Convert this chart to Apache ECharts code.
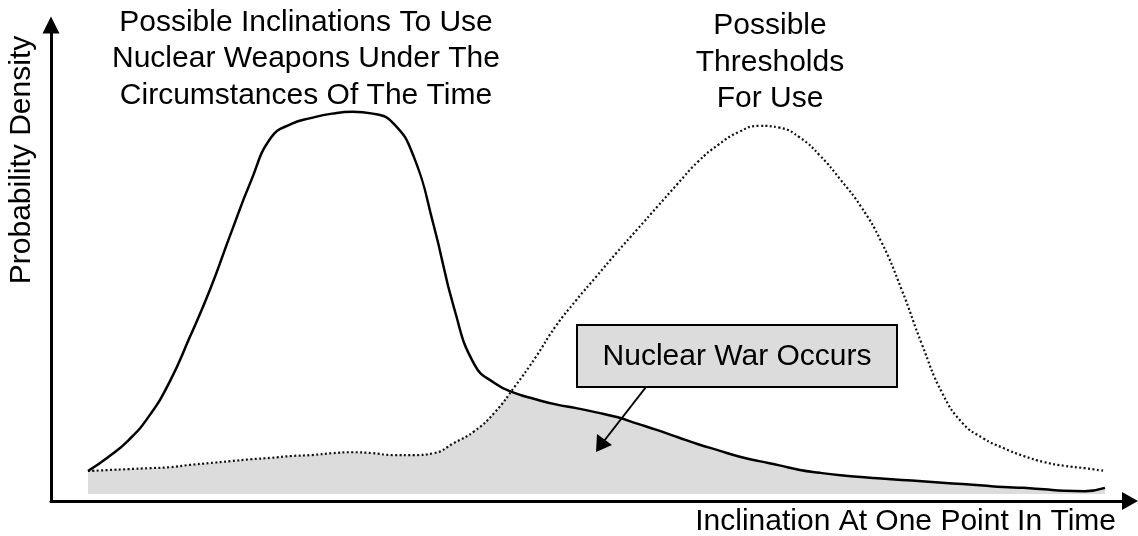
<!DOCTYPE html>
<html>
<head>
<meta charset="utf-8">
<script src="https://cdn.jsdelivr.net/npm/echarts@6/dist/echarts.min.js"></script>
<style>
  html, body { margin: 0; padding: 0; background: #fff; }
  #main { width: 1138px; height: 536px; }
</style>
</head>
<body>
<div id="main"></div>
<script>
// inclination (arbitrary units along the horizontal axis)
const xs = [0, 2, 4, 6, 8, 10, 12, 14, 16, 18, 20, 22, 24, 26, 28, 30, 32, 34, 36, 38,
  40, 42, 44, 46, 48, 50, 52, 54, 56, 58, 60, 62, 64, 66, 68, 70, 72, 74, 76, 78,
  80, 82, 84, 86, 88, 90, 92, 94, 96, 98, 100]

// possible inclinations to use nuclear weapons (solid curve)
const inclination = [4.9, 7.9, 11.5, 16.6, 23.8, 33.4, 43.6, 55.3, 66.6, 76.0,
  78.9, 80.2, 81.1, 81.5, 81.1, 79.1, 72.1, 57.2, 39.6, 27.6,
  23.6, 21.5, 20.2, 19.1, 18.3, 17.4, 16.4, 15.0, 13.6, 12.1,
  10.6, 9.3, 8.0, 7.0, 6.1, 5.1, 4.5, 4.0, 3.6, 3.3,
  3.0, 2.7, 2.4, 2.1, 1.8, 1.5, 1.3, 1.0, 0.7, 0.6, 1.3]

// possible thresholds for use (dotted curve)
const threshold = [4.9, 5.1, 5.3, 5.5, 5.7, 6.2, 6.6, 7.0, 7.4, 7.7,
  8.1, 8.3, 8.7, 8.9, 8.7, 8.3, 8.3, 8.7, 10.9, 13.4,
  17.4, 23.0, 29.1, 35.8, 41.3, 46.4, 51.5, 56.4, 61.3, 66.2,
  70.9, 74.5, 77.2, 78.5, 78.1, 76.0, 72.1, 67.0, 61.3, 53.8,
  43.6, 31.9, 21.5, 15.1, 11.9, 9.8, 8.1, 6.8, 6.0, 5.5, 4.9]

const fontFamily = '"Liberation Sans", Arial, sans-serif'
const font = '30px ' + fontFamily

const pairs = arr => xs.map((x, i) => [x, arr[i]])
// overlap region: below both curves
const overlap = xs.map((x, i) => [x, Math.min(inclination[i], threshold[i])])

function label (text, x, y, align, rotation) {
  return {
    type: 'text',
    x: x,
    y: y,
    rotation: rotation || 0,
    style: {
      text: text,
      font: font,
      fill: '#000',
      textAlign: align || 'center',
      textVerticalAlign: 'middle'
    },
    z: 11
  }
}

const chart = echarts.init(document.getElementById('main'), null, { renderer: 'canvas' })

const option = {
  animation: false,
  backgroundColor: '#fff',
  grid: {
    left: 51,
    right: 8,
    top: 25,
    bottom: 35
  },
  xAxis: {
    type: 'value',
    min: -3.64,
    max: 102.46,
    axisLine: {
      show: true,
      onZero: false,
      symbol: ['none', 'triangle'],
      symbolSize: [18, 16],
      lineStyle: { color: '#000', width: 3 }
    },
    axisTick: { show: false },
    axisLabel: { show: false },
    splitLine: { show: false }
  },
  yAxis: {
    type: 'value',
    min: -1.5,
    max: 100,
    axisLine: {
      show: true,
      onZero: false,
      symbol: ['none', 'triangle'],
      symbolSize: [17, 17],
      lineStyle: { color: '#000', width: 3 }
    },
    axisTick: { show: false },
    axisLabel: { show: false },
    splitLine: { show: false }
  },
  series: [
    {
      name: 'Nuclear War Occurs',
      type: 'line',
      data: overlap,
      smooth: 0.5,
      symbol: 'none',
      lineStyle: { width: 0 },
      areaStyle: { color: '#dcdcdc', opacity: 1, origin: 'auto' },
      z: 1
    },
    {
      name: 'Possible Thresholds For Use',
      type: 'line',
      data: pairs(threshold),
      smooth: 0.5,
      symbol: 'none',
      lineStyle: { color: '#111', width: 2.2, type: [2, 2.4] },
      z: 2
    },
    {
      name: 'Possible Inclinations',
      type: 'line',
      data: pairs(inclination),
      smooth: 0.5,
      symbol: 'none',
      lineStyle: { color: '#000', width: 2.5 },
      z: 3
    }
  ],
  graphic: [
    label('Possible Inclinations To Use', 306, 23),
    label('Nuclear Weapons Under The', 306, 59),
    label('Circumstances Of The Time', 306, 96),
    label('Possible', 770, 26),
    label('Thresholds', 770, 63),
    label('For Use', 770, 99),
    label('Probability Density', 22, 160, 'center', Math.PI / 2),
    label('Inclination At One Point In Time', 1116, 522, 'right'),
    {
      type: 'line',
      shape: { x1: 646, y1: 387, x2: 604, y2: 441 },
      style: { stroke: '#000', lineWidth: 2 },
      z: 10
    },
    {
      type: 'polygon',
      shape: { points: [[596, 452], [597, 434], [612, 445]] },
      style: { fill: '#000' },
      z: 10
    },
    {
      type: 'rect',
      shape: { x: 577, y: 325, width: 320, height: 62 },
      style: { fill: '#dcdcdc', stroke: '#000', lineWidth: 2 },
      z: 10
    },
    label('Nuclear War Occurs', 737, 357)
  ]
}

chart.setOption(option)
window.addEventListener('resize', function () {
  chart.resize()
})
</script>
</body>
</html>
